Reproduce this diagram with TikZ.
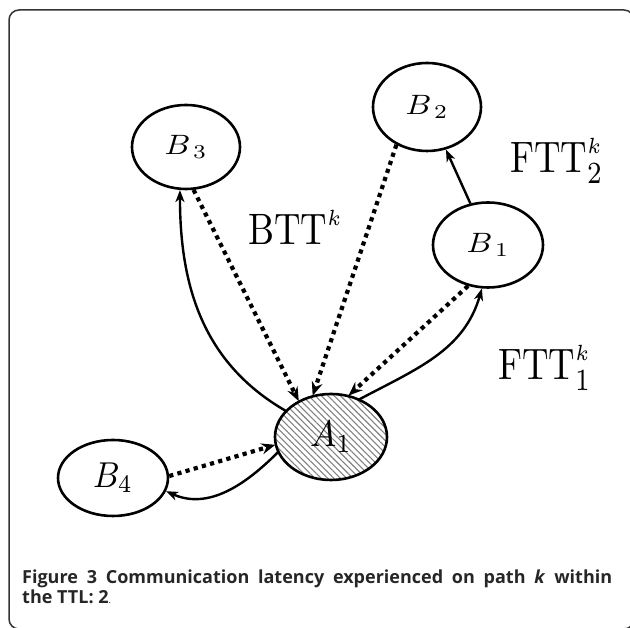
\documentclass[tikz,border=0pt]{standalone}
\usepackage{fontspec}
\newfontfamily\capfont{Open Sans}
\usetikzlibrary{arrows.meta,shapes.geometric,patterns.meta}
\begin{document}
\begin{tikzpicture}[x=1pt,y=1pt,
  nd/.style={ellipse, draw, line width=2.6pt, inner sep=0pt},
  dotarrow/.style={line width=4.2pt, dash pattern=on 4.2pt off 4.3pt, -{Stealth[length=14pt,width=11pt]}},
  solarrow/.style={line width=2.4pt, -{Stealth[length=12pt,width=9pt,inset=3.5pt]}},
  lbl/.style={anchor=base west, inner sep=0pt}
]
\useasboundingbox (0,0) rectangle (630,628);
\draw[line width=1.5pt, rounded corners=10pt, draw=black!80] (9,618) rectangle (634,-1);

\node[nd, minimum width=108pt, minimum height=84pt] (B3) at (186,481) {\scalebox{3.2}[2.8]{$B_{\,3}$}};
\node[nd, minimum width=108pt, minimum height=88pt] (B2) at (427,521) {\scalebox{3.2}[2.8]{$B_{\,2}$}};
\node[nd, minimum width=110pt, minimum height=85pt] (B1) at (488,383) {\scalebox{3.2}[2.8]{$B_{\,1}$}};
\node[nd, minimum width=112pt, minimum height=86pt,
  pattern={Lines[angle=-45,distance=4.5pt,line width=1.1pt]}, pattern color=black!50] (A1) at (331,191) {\scalebox{3.5}[3.7]{$A_{1}$}};
\node[nd, minimum width=110pt, minimum height=76pt] (B4) at (113,150) {\scalebox{3.3}[3.6]{$B_{4}$}};

\node[lbl] (btt) at (248,383) {\scalebox{3.67}[4.4]{$\mathrm{BTT}^{\scriptscriptstyle k}$}};
\node[lbl] (ftt2) at (510,455) {\scalebox{3.67}[4.4]{$\mathrm{FTT}_2^{\scriptscriptstyle k}$}};
\node[lbl] (ftt1) at (498,248) {\scalebox{3.67}[4.4]{$\mathrm{FTT}_1^{\scriptscriptstyle k}$}};

% solid arrows
\draw[solarrow] (A1.150) to[out=150,in=270] (B3.262);
\draw[solarrow] (A1.53) to[out=28,in=254] (B1.262);
\draw[solarrow] (B1.113) -- (B2.294);
\draw[solarrow] (A1.196) to[out=225,in=336] (B4.346);

% dotted arrows
\draw[dotarrow] (B3.280) -- (A1.132);
\draw[dotarrow] (B2.231) -- (A1.114);
\draw[dotarrow] (B1.244) -- (A1.67);
\draw[dotarrow] (B4.2) -- (A1.188);

\node[anchor=base west, inner sep=0pt, text=black!85] (cap1) at (22,44)
  {\fontsize{18}{21}\selectfont\capfont\bfseries\makebox[590pt][s]{Figure~3 Communication latency experienced on path \textit{k} within}};
\node[anchor=base west, inner sep=0pt, text=black!85] (cap2) at (22,24)
  {\fontsize{18}{21}\selectfont\capfont\bfseries the TTL: 2{\mdseries\fontsize{9}{10}\selectfont.}};
\end{tikzpicture}
\end{document}
